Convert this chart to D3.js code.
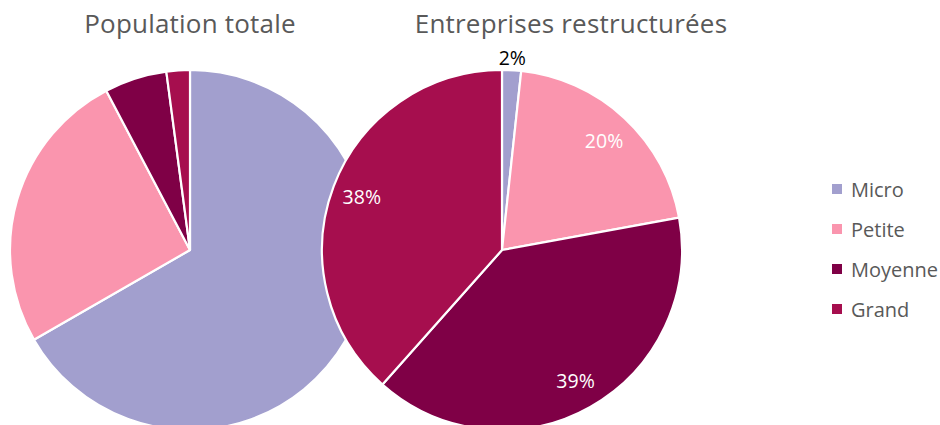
<!DOCTYPE html>
<html>
<head>
<meta charset="utf-8">
<script src="https://cdn.jsdelivr.net/npm/d3@7/dist/d3.min.js"></script>
<style>
  html, body { margin: 0; padding: 0; background: #fff; }
  svg { display: block; font-family: "Open Sans", "Noto Sans", sans-serif; }
</style>
</head>
<body>
<svg id="chart" width="940" height="425"></svg>
<script>
// Company size categories and their colours
const categories = ["Micro", "Petite", "Moyenne", "Grand"];
const colors = ["#A29FCE", "#FA95AE", "#7F0046", "#A60E4E"];

// Share of each size class (%)
const populationTotale = [66.7, 25.6, 5.6, 2.1];
const entreprisesRestructurees = [1.7, 20.4, 39.4, 38.4];

const chartTitles = ["Population totale", "Entreprises restructurées"];

const svg = d3.select("#chart");
const color = d3.scaleOrdinal().domain(categories).range(colors);

const radius = 180;
const pie = d3.pie().sort(null).value(d => d.value);
const arc = d3.arc().innerRadius(0).outerRadius(radius);

function drawPie(values, cx, cy, showLabels) {
  const data = categories.map((c, i) => ({ cat: c, value: values[i] }));
  const g = svg.append("g").attr("transform", `translate(${cx},${cy})`);
  const arcs = pie(data);

  g.selectAll("path.slice")
    .data(arcs)
    .join("path")
    .attr("class", "slice")
    .attr("d", arc)
    .attr("fill", d => color(d.data.cat))
    .attr("stroke", "#fff")
    .attr("stroke-width", 2.2)
    .attr("stroke-linejoin", "round");

  if (showLabels) {
    const inner = d3.arc().innerRadius(150).outerRadius(150);
    const outer = d3.arc().innerRadius(193).outerRadius(193);
    g.selectAll("text.val")
      .data(arcs)
      .join("text")
      .attr("class", "val")
      .attr("transform", d => {
        const small = (d.endAngle - d.startAngle) < 0.2;
        const [x, y] = (small ? outer : inner).centroid(d);
        return `translate(${x},${y})`;
      })
      .attr("text-anchor", "middle")
      .attr("dominant-baseline", "central")
      .attr("font-size", 19.5)
      .attr("fill", d => (d.endAngle - d.startAngle) < 0.2 ? "#000" : "#fff")
      .text(d => Math.round(d.data.value) + "%");
  }
}

drawPie(populationTotale, 190, 250, false);
drawPie(entreprisesRestructurees, 502, 250, true);

// Titles
svg.selectAll("text.title")
  .data(chartTitles)
  .join("text")
  .attr("class", "title")
  .attr("x", (d, i) => i === 0 ? 190 : 571)
  .attr("y", 33)
  .attr("text-anchor", "middle")
  .attr("font-size", 26)
  .attr("letter-spacing", 0.2)
  .attr("fill", "#595959")
  .text(d => d);

// Legend
const legend = svg.append("g").attr("transform", "translate(832,189)");
const rows = legend.selectAll("g.row")
  .data(categories)
  .join("g")
  .attr("class", "row")
  .attr("transform", (d, i) => `translate(0,${i * 40})`);

rows.append("rect")
  .attr("x", 0).attr("y", -5)
  .attr("width", 10).attr("height", 10)
  .attr("fill", d => color(d));

rows.append("text")
  .attr("x", 19).attr("y", 0)
  .attr("dominant-baseline", "central")
  .attr("font-size", 20)
  .attr("fill", "#595959")
  .text(d => d);
</script>
</body>
</html>
